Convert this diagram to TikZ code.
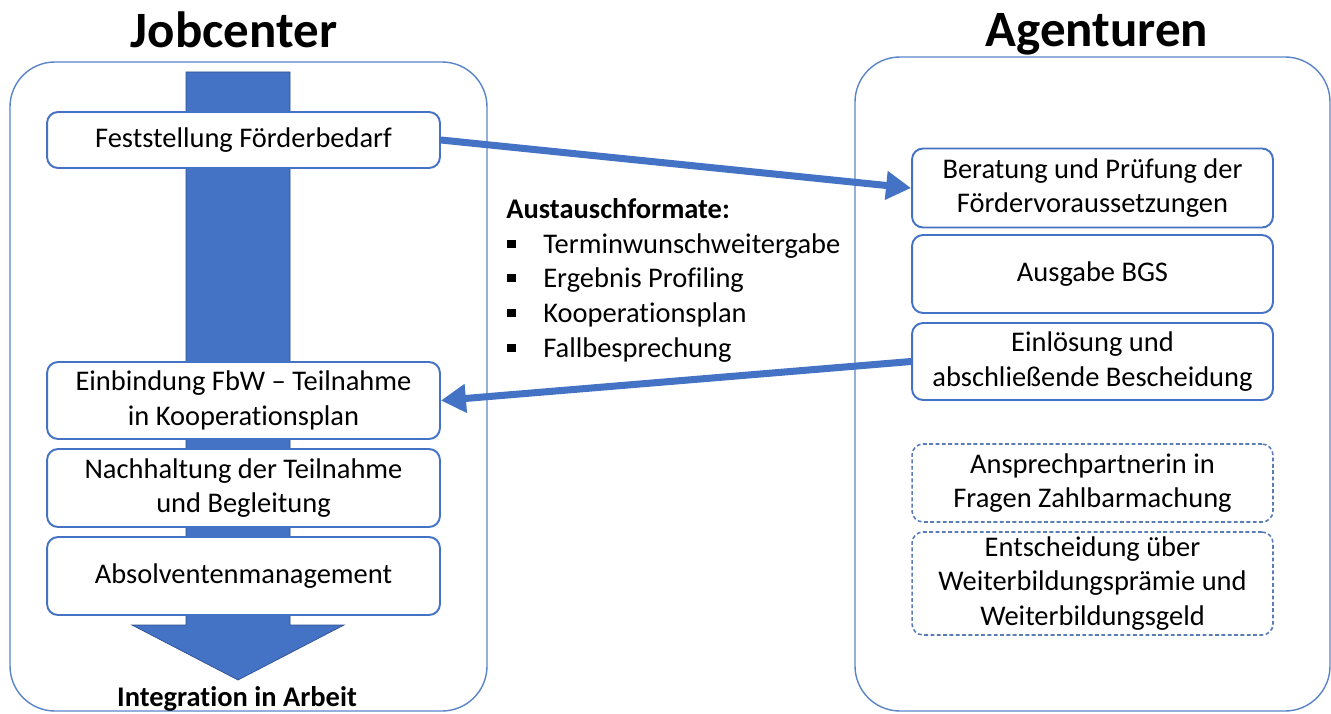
\documentclass[tikz,border=0pt]{standalone}
\usepackage{fontspec}
\setmainfont{Carlito}[Ligatures={TeX,NoCommon}]
\usepackage{tikz}
\usetikzlibrary{arrows.meta}

\definecolor{boxblue}{HTML}{4472C4}
\definecolor{edgeblue}{HTML}{2F528F}
\definecolor{frameblue}{HTML}{5B84C8}
\definecolor{dashblue}{HTML}{5A7DB5}
\newcommand{\boxfont}{\fontsize{16.2}{19.6}\selectfont}
\newcommand{\bul}{\makebox[0.72cm][l]{\raisebox{0.1cm}{\rule{0.17cm}{0.17cm}}}}

\tikzset{
    frame/.style={draw=frameblue, line width=0.8pt, rounded corners=0.9cm},
    title/.style={font=\fontsize{29}{34}\selectfont\bfseries, anchor=base},
    stage/.style={draw=boxblue, line width=1.1pt, fill=white, rounded corners=0.22cm,
        align=center, font=\boxfont, inner sep=0pt},
    jcbox/.style={stage, minimum width=7.86cm},
    agbox/.style={stage, minimum width=7.22cm},
    optbox/.style={agbox, draw=dashblue, line width=0.9pt, dash pattern=on 2.2pt off 1.4pt},
    flow/.style={draw=boxblue, line width=4pt, -{Triangle[length=0.5cm, width=0.55cm]}},
    listline/.style={font=\boxfont, anchor=base west, inner sep=0pt}
}

\begin{document}
\begin{tikzpicture}[x=0.02cm, y=-0.02cm]
    \useasboundingbox (0,0) rectangle (1331,713);

    % two frames with headings
    \draw[frame] (10,62) rectangle (487,711);
    \draw[frame] (855,57) rectangle (1330,711);
    \node[title] (jobcenter) at (234,48) {Jobcenter};
    \node[title] (agenturen) at (1097,47) {Agenturen};

    % big arrow behind the Jobcenter steps
    \filldraw[fill=boxblue, draw=edgeblue, thin]
        (186,72) -- (290,72) -- (290,625) -- (344,625) -- (238,680)
        -- (132,625) -- (186,625) -- cycle;
    \node[font=\boxfont\bfseries, anchor=base, inner sep=0pt] (integration) at (237,706) {Integration in Arbeit};

    % Jobcenter steps
    \node[jcbox, minimum height=1.12cm] (bedarf) at (243.5,140) {Feststellung Förderbedarf};
    \node[jcbox, minimum height=1.54cm] (einbindung) at (243.5,400.5) {Einbindung FbW – Teilnahme\\in Kooperationsplan};
    \node[jcbox, minimum height=1.56cm] (nachhaltung) at (243.5,488) {Nachhaltung der Teilnahme\\und Begleitung};
    \node[jcbox, minimum height=1.56cm] (absolventen) at (243.5,576) {Absolventenmanagement};

    % Agenturen steps
    \node[agbox, minimum height=1.58cm] (beratung) at (1092.5,188) {Beratung und Prüfung der\\Fördervoraussetzungen};
    \node[agbox, minimum height=1.56cm] (bgs) at (1092.5,274) {Ausgabe BGS};
    \node[agbox, minimum height=1.54cm] (einloesung) at (1092.5,361.5) {Einlösung und\\abschließende Bescheidung};
    \node[optbox, minimum height=1.56cm] (zahlbar) at (1092.5,483) {Ansprechpartnerin in\\Fragen Zahlbarmachung};
    \node[optbox, minimum height=2.06cm] (entscheidung) at (1092.5,583.5) {Entscheidung über\\Weiterbildungsprämie und\\Weiterbildungsgeld};

    % exchange formats
    \node[listline, font=\boxfont\bfseries] (formate) at (506,218) {Austauschformate:};
    \node[listline] (termin) at (507,253) {\bul Terminwunschweitergabe};
    \node[listline] (profiling) at (507,287) {\bul Ergebnis Profiling};
    \node[listline] (koopplan) at (507,322) {\bul Kooperationsplan};
    \node[listline] (fall) at (507,357) {\bul Fallbesprechung};

    % connectors
    \draw[flow] (bedarf.east) -- (beratung.west);
    \draw[flow] (einloesung.west) -- (einbindung.east);
\end{tikzpicture}
\end{document}
